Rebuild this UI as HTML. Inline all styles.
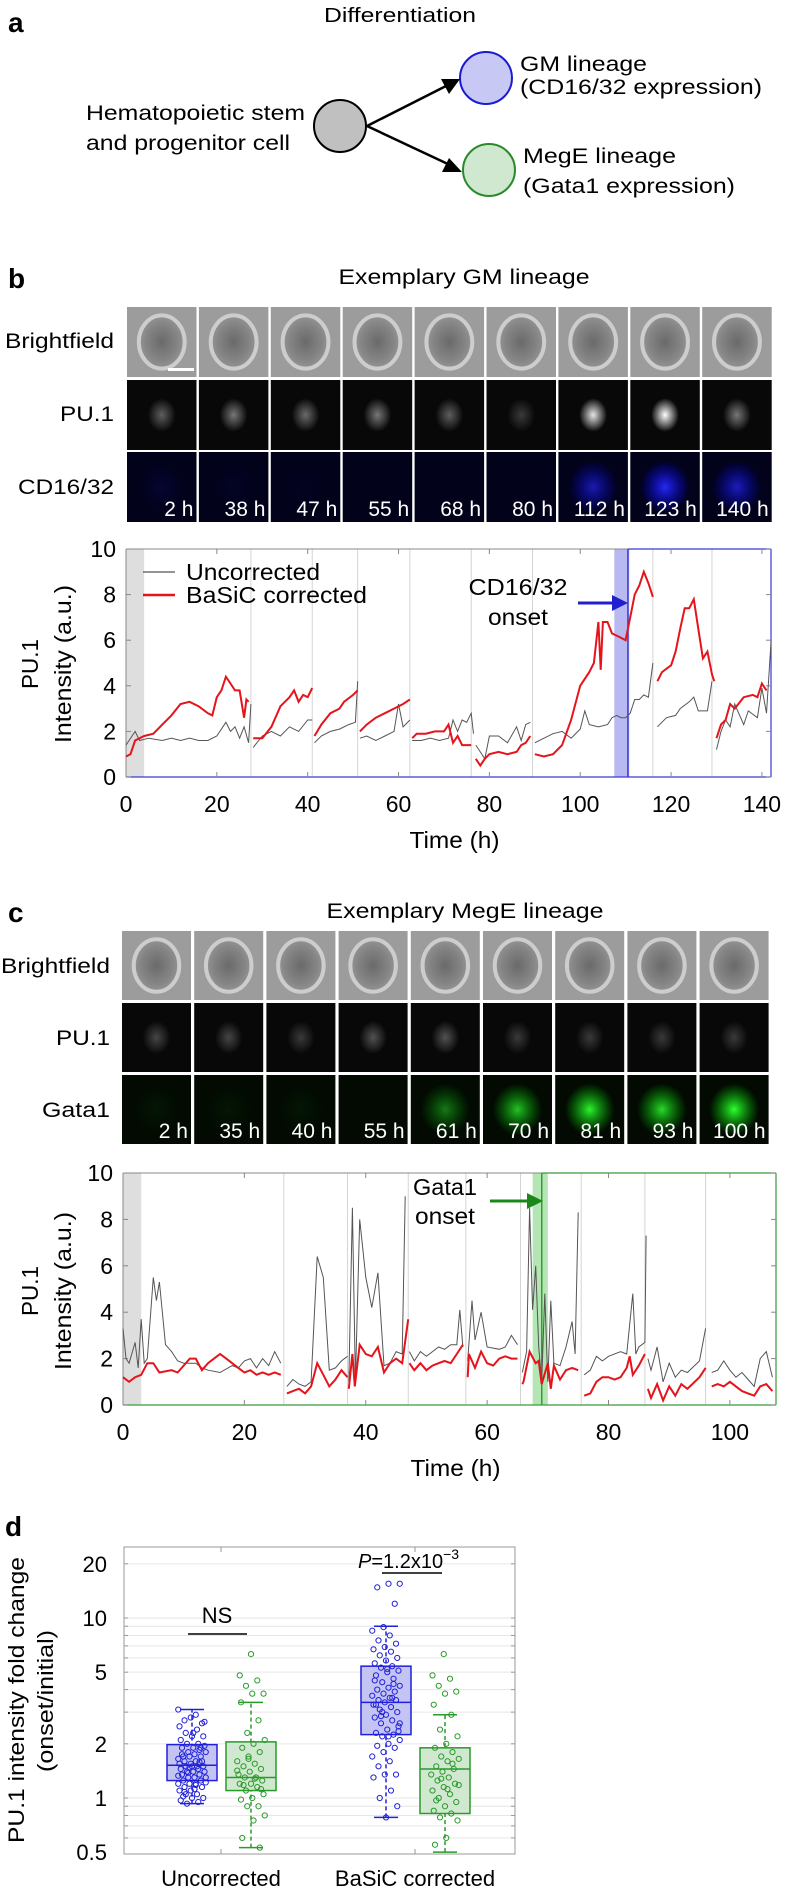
<!DOCTYPE html>
<html><head><meta charset="utf-8"><style>
html,body{margin:0;padding:0;background:#fff;}
svg{display:block;font-family:"Liberation Sans",Arial,sans-serif;}
</style></head><body>
<svg id="fig" width="788" height="1893" viewBox="0 0 788 1893" xmlns="http://www.w3.org/2000/svg">
<defs>
<radialGradient id="gGray"><stop offset="0" stop-color="#fff" stop-opacity="1"/><stop offset="1" stop-color="#fff" stop-opacity="0"/></radialGradient>
<radialGradient id="gBlue"><stop offset="0" stop-color="#2a2aff" stop-opacity="1"/><stop offset="1" stop-color="#0000ff" stop-opacity="0"/></radialGradient>
<radialGradient id="gGreen"><stop offset="0" stop-color="#30ff30" stop-opacity="1"/><stop offset="1" stop-color="#00cc00" stop-opacity="0"/></radialGradient>
<radialGradient id="gBF"><stop offset="0" stop-color="#6a6a6a"/><stop offset="0.7" stop-color="#858585"/><stop offset="1" stop-color="#959595"/></radialGradient>
<marker id="ahB" markerWidth="10" markerHeight="10" refX="9" refY="5" orient="auto" markerUnits="userSpaceOnUse"><path d="M0,0 L10,5 L0,10 z" fill="#1f1fd0"/></marker>
</defs>

<!-- Panel a -->
<g>
<text x="8" y="32" font-size="28" font-weight="bold">a</text>
<text x="400" y="22" font-size="20" text-anchor="middle" textLength="152" lengthAdjust="spacingAndGlyphs">Differentiation</text>
<text x="86" y="120" font-size="21" textLength="219" lengthAdjust="spacingAndGlyphs">Hematopoietic stem</text>
<text x="86" y="150" font-size="21" textLength="204" lengthAdjust="spacingAndGlyphs">and progenitor cell</text>
<ellipse cx="340" cy="126" rx="26" ry="26" fill="#c0c0c0" stroke="#000" stroke-width="2"/>
<ellipse cx="486" cy="78" rx="26" ry="26" fill="#c8c8f4" stroke="#1a1ad0" stroke-width="2"/>
<ellipse cx="489" cy="170" rx="26" ry="26" fill="#cfe8cf" stroke="#2a8a2a" stroke-width="2"/>
<line x1="367" y1="126" x2="448" y2="85" stroke="#000" stroke-width="2.5"/>
<polygon points="460,79 441,79 449,94" fill="#000"/>
<line x1="367" y1="126" x2="450" y2="165" stroke="#000" stroke-width="2.5"/>
<polygon points="462,172 449,158 442,172" fill="#000"/>
<text x="520" y="71" font-size="21" textLength="127" lengthAdjust="spacingAndGlyphs">GM lineage</text>
<text x="520" y="94" font-size="21" textLength="242" lengthAdjust="spacingAndGlyphs">(CD16/32 expression)</text>
<text x="523" y="163" font-size="21" textLength="153" lengthAdjust="spacingAndGlyphs">MegE lineage</text>
<text x="523" y="193" font-size="21" textLength="212" lengthAdjust="spacingAndGlyphs">(Gata1 expression)</text>
</g>

<!-- Panel b header -->
<text x="8" y="288" font-size="28" font-weight="bold">b</text>
<text x="464" y="284" font-size="21" text-anchor="middle" textLength="251" lengthAdjust="spacingAndGlyphs">Exemplary GM lineage</text>
<text x="114" y="348" font-size="21" text-anchor="end" textLength="109" lengthAdjust="spacingAndGlyphs">Brightfield</text>
<text x="114" y="421" font-size="21" text-anchor="end" textLength="54" lengthAdjust="spacingAndGlyphs">PU.1</text>
<text x="114" y="494" font-size="21" text-anchor="end" textLength="96" lengthAdjust="spacingAndGlyphs">CD16/32</text>
<g id="imgB"></g>

<!-- Panel c header -->
<text x="8" y="922" font-size="28" font-weight="bold">c</text>
<text x="465" y="918" font-size="21" text-anchor="middle" textLength="277" lengthAdjust="spacingAndGlyphs">Exemplary MegE lineage</text>
<text x="110" y="973" font-size="21" text-anchor="end" textLength="109" lengthAdjust="spacingAndGlyphs">Brightfield</text>
<text x="110" y="1045" font-size="21" text-anchor="end" textLength="54" lengthAdjust="spacingAndGlyphs">PU.1</text>
<text x="110" y="1117" font-size="21" text-anchor="end" textLength="68" lengthAdjust="spacingAndGlyphs">Gata1</text>
<g id="imgC"></g>

<g id="chartB"></g>
<g id="chartC"></g>

<!-- Panel d -->
<text x="5" y="1536" font-size="28" font-weight="bold">d</text>
<g id="chartD"></g>
</svg>

<script>
const NS='http://www.w3.org/2000/svg';
function mk(parent,tag,attrs,txt){const e=document.createElementNS(NS,tag);for(const k in attrs)e.setAttribute(k,attrs[k]);if(txt!==undefined)e.textContent=txt;parent.appendChild(e);return e;}

/* ---------- image strips ---------- */
const bTimes=['2 h','38 h','47 h','55 h','68 h','80 h','112 h','123 h','140 h'];
const bPU1=[0.35,0.45,0.4,0.45,0.35,0.2,0.9,1.0,0.45];
const bCD=[0.1,0.05,0.03,0,0,0,0.65,0.95,0.7];
const cTimes=['2 h','35 h','40 h','55 h','61 h','70 h','81 h','93 h','100 h'];
const cPU1=[0.25,0.25,0.2,0.3,0.3,0.2,0.2,0.2,0.2];
const cGata=[0.05,0.05,0.05,0,0.45,0.75,0.95,0.85,1.0];

function strip(gid,x0,pitch,w,rows,times,pu,fl,flGrad,tag){
  const g=document.getElementById(gid);
  for(let i=0;i<times.length;i++){
    const x=x0+i*pitch;
    const r0=rows[0],r1=rows[1],r2=rows[2],h=rows[3];
    const bf=mk(g,'rect',{x:x,y:r0,width:w,height:h,fill:'#9c9c9c'});
    
    
    mk(g,'ellipse',{cx:x+w/2,cy:r0+h/2,rx:w*0.33,ry:h*0.38,fill:'url(#gBF)',stroke:'#cdcdcd','stroke-width':4});
    const pr=mk(g,'rect',{x:x,y:r1,width:w,height:h,fill:'#080808'});
    
    
    mk(g,'ellipse',{cx:x+w/2,cy:r1+h/2,rx:w*0.2,ry:h*0.24,fill:'url(#gGray)',opacity:pu[i]});
    const fr=mk(g,'rect',{x:x,y:r2,width:w,height:h,fill:flGrad==='gBlue'?'#02021a':'#020a02'});
    
    
    mk(g,'ellipse',{cx:x+w/2,cy:r2+h/2,rx:w*0.36,ry:h*0.38,fill:'url(#'+flGrad+')',opacity:fl[i]});
    const t=mk(g,'text',{x:x+w-3,y:r2+h-6,'font-size':21,fill:'#fff','text-anchor':'end'},times[i]);
    
    
  }
}
strip('imgB',127,71.9,69.5,[307,380,452,70],bTimes,bPU1,bCD,'gBlue','gm');
strip('imgC',122,72.2,69,[931,1003,1075,69],cTimes,cPU1,cGata,'gGreen','mege');
(function(){const g=document.getElementById('imgB');const s=mk(g,'rect',{x:168,y:368,width:26,height:3,fill:'#fff'});

})();

/* ---------- chart b data ---------- */
const bRedT=[0,1,2,4,6,8,10,12,14,16,18,19,20,21,22,23,24,25,26,26.5,27,null,28,30,32,34,36,37,38,39,40,41,null,41.5,43,45,47,48,50,51,null,51.5,53,55,57,59,61,62.5,null,63,64,66,68,70,71,72,73,74,76,null,77,78,79,80,82,84,86,87,88,89,null,90,92,94,96,98,100,102,103,104,104.5,105,106,107,108,109,110,111,112,113,114,115,116,null,117,118,120,121,122,123,124,125,126,127,128,129,129.5,null,130,131,132,133,134,136,138,139,140,141];
const bRedV=[0.9,1,1.6,1.8,1.9,2.3,2.7,3.2,3.3,3.1,2.8,2.7,3.5,3.8,4.4,4.1,3.8,3.8,2.6,3.4,3.3,null,1.7,1.7,2.2,3.1,3.5,3.8,3.3,3.6,3.5,3.9,null,1.8,2.3,2.8,3.0,3.3,3.6,3.8,null,2.0,2.3,2.6,2.8,3.0,3.2,3.4,null,1.7,1.9,1.9,2.0,2.0,2.3,1.5,1.8,1.4,1.4,null,0.8,0.5,0.8,1.0,1.1,1.0,1.1,1.4,1.5,1.8,null,1.0,0.9,1.0,1.4,2.5,4.0,4.6,5.0,6.8,4.7,6.8,6.8,6.3,6.2,6.1,6.0,7.0,8.0,8.4,9.0,8.5,7.9,null,4.2,4.6,4.9,5.5,6.5,7.4,7.4,7.8,6.5,5.2,5.5,4.5,4.2,null,1.7,2.3,2.5,3.2,3.0,3.5,3.6,3.5,4.1,3.8];
const bGrayT=[0,2,3,5,8,10,12,14,16,18,20,22,23,24,25,26,27,27.5,null,28,30,32,34,36,38,40,41,null,41.5,43,45,47,49,50.5,51,null,51.5,53,55,57,59,60,61,62.5,null,63,65,67,69,71,72,73,74,75,76,76.5,null,77,78,79,80,82,84,86,87,88,89,null,90,92,94,96,98,100,101,102,104,106,107,108,109,110,111,112,113,114,115,116,null,117,119,121,122,124,125,126,128,129,null,130,131,132,133,134,136,137,139,140,141,142];
const bGrayV=[1.4,2,1.6,1.7,1.6,1.7,1.6,1.7,1.6,1.6,1.8,2.4,2.0,2.2,1.7,2.2,1.5,3.2,null,1.3,1.8,2.0,1.8,2.2,2.0,2.5,2.5,null,1.5,1.8,2.0,2.1,2.3,2.4,4.2,null,1.7,1.8,1.6,1.8,2.0,3.2,2.2,2.5,null,1.6,1.6,1.7,1.6,1.7,2.5,2.0,2.5,2.4,2.8,1.9,null,1.4,1.1,0.8,1.8,1.8,1.5,2.2,1.6,2.3,2.4,null,1.5,1.7,1.9,2.0,1.7,2.1,2.9,2.3,2.2,2.3,2.6,2.7,2.6,2.6,2.8,3.4,3.4,3.6,3.5,5.0,null,2.2,2.6,2.7,3.0,3.3,3.5,2.9,2.9,4.2,null,1.2,2.0,2.5,2.2,3.2,2.3,2.9,2.6,3.9,2.8,5.9];
const bDividers=[27.5,41,51,62.5,76,89.5,116,129];
const bTicksX=[0,20,40,60,80,100,120,140];
const bTicksY=[0,2,4,6,8,10];
const bOnset=110.5, bBand=[107.5,110.8], bInitial=[0,4];

/* ---------- chart c data ---------- */
const cRedT=[0,1,2,3,4,5,6,8,9,10,11,12,13,14,15,16,17,18,19,20,21,22,23,24,25,26,null,27,28,29,30,31,32,33,34,35,36,37,null,37.2,37.8,38.2,39,40,41,42,43,44,45,46,47,null,47.2,48,49,50,51,52,53,54,55,56,null,56.8,57,58,59,60,61,62,63,64,65,null,65.8,66,67,68,68.5,69,70,70.5,71,72,73,74,75,null,76,77,78,79,80,81,82,83,83.5,84,85,86,null,86.5,87,88,89,90,91,92,93,95,96,null,97,98,99,100,101,102,103,104,105,106,107];
const cRedV=[1.2,1.0,1.2,1.3,1.8,1.8,1.4,1.5,1.4,1.7,2.0,2.0,1.5,1.8,2.0,2.2,2.0,1.8,1.6,1.4,1.5,1.3,1.4,1.3,1.4,1.3,null,0.5,0.6,0.7,0.5,0.8,1.8,1.3,0.8,1.1,1.5,1.2,null,0.7,2.2,0.8,2.6,2.2,2.1,2.5,1.4,1.8,2.0,1.8,3.7,null,1.8,1.5,1.8,1.5,1.7,1.8,1.9,1.8,2.2,2.6,null,1.2,2.2,1.6,2.3,1.8,1.7,2.0,2.1,2.0,2.0,null,0.9,1.0,2.3,1.8,1.9,0.9,1.8,0.7,1.7,1.1,1.5,1.6,1.5,null,0.4,0.5,1.0,1.2,1.2,1.1,1.2,1.6,2.1,1.3,1.7,2.2,null,0.7,0.3,0.9,0.2,0.8,0.4,0.9,0.7,1.2,1.6,null,0.8,0.9,0.8,1.0,0.8,0.6,0.5,0.4,0.8,0.9,0.6];
const cGrayT=[0,0.5,1,2,2.5,3,3.5,4,5,5.5,6,7,8,9,10,12,13,14,16,18,19,20,21,22,23,24,25,26,null,27,28,29,30,31,32,33,34,35,36,37,null,37.2,37.8,38.3,39,40,41,42,43,44,45,46,46.5,null,47.2,48,49,50,51,52,53,54,55,55.5,56,null,56.8,57.5,58,59,60,62,63,64,65,null,65.8,66.5,67,67.5,68,68.5,69,69.5,70,70.5,71,72,73,74,74.5,75,null,76,77,78,79,80,82,83,84,84.5,85,86,86.2,null,86.5,87,88,89,90,91,92,93,95,96,null,97,98,99,100,101,102,103,104,105,106,107];
const cGrayV=[3.3,2.0,1.8,2.7,1.6,3.7,1.8,2.0,5.5,4.5,5.3,2.6,2.3,1.9,1.8,1.8,1.6,1.5,1.4,1.7,1.6,1.9,2.0,1.6,2.0,1.7,2.3,1.8,null,0.8,1.1,0.9,0.8,1.0,6.4,5.5,1.5,1.6,1.9,2.1,null,1.0,8.5,1.0,8.0,5.5,4.2,5.7,1.7,1.8,2.3,2.2,9.0,null,2.3,1.9,2.3,2.1,2.3,2.5,2.4,2.6,2.6,4.1,2.5,null,1.9,4.5,2.8,4.0,2.5,2.4,2.5,3.0,2.6,null,1.4,2.3,8.5,4.1,6.0,2.5,1.0,4.8,1.0,4.5,1.8,1.7,2.5,3.6,2.2,8.3,null,1.3,1.5,2.1,1.9,2.1,2.3,2.2,4.8,2.2,2.5,2.7,7.3,null,2.0,1.5,2.5,1.0,1.8,1.2,1.5,1.4,1.9,3.3,null,1.4,1.5,1.9,1.5,1.2,1.4,1.1,0.8,2.0,2.3,1.2];
const cDividers=[26.5,37,47,56.5,65.5,75.5,86,96];
const cTicksX=[0,20,40,60,80,100];
const cTicksY=[0,2,4,6,8,10];
const cOnset=69, cBand=[67.5,70], cInitial=[0,3];

function timeChart(gid,o){
  const g=document.getElementById(gid);
  const X=t=>o.left+(t-0)*(o.right-o.left)/o.xmax;
  const Y=v=>o.bottom-v*(o.bottom-o.top)/10;
  // initial shading
  const sh=mk(g,'rect',{x:X(o.initial[0]),y:o.top,width:X(o.initial[1])-X(o.initial[0]),height:o.bottom-o.top,fill:'#dedede'});
  
  
  // onset band
  const bd=mk(g,'rect',{x:X(o.band[0]),y:o.top,width:X(o.band[1])-X(o.band[0]),height:o.bottom-o.top,fill:o.bandFill});
  
  
  // dividers
  o.div.forEach(d=>{const l=mk(g,'line',{x1:X(d),x2:X(d),y1:o.top,y2:o.bottom,stroke:'#d4d4d4','stroke-width':1});
    
    });
  // axes frame
  mk(g,'line',{x1:o.left,x2:o.left,y1:o.top,y2:o.bottom,stroke:'#888','stroke-width':1});
  mk(g,'line',{x1:o.left,x2:X(o.onset),y1:o.top,y2:o.top,stroke:'#888','stroke-width':1});
  mk(g,'line',{x1:X(o.onset),x2:o.right,y1:o.top,y2:o.top,stroke:o.col,'stroke-width':1.2});
  mk(g,'line',{x1:o.right,x2:o.right,y1:o.top,y2:o.bottom,stroke:o.col,'stroke-width':1.2});
  mk(g,'line',{x1:o.left,x2:o.right,y1:o.bottom,y2:o.bottom,stroke:o.col,'stroke-width':1.2});
  mk(g,'line',{x1:X(o.onset),x2:X(o.onset),y1:o.top,y2:o.bottom,stroke:o.col,'stroke-width':1.5});
  // ticks
  o.tx.forEach(t=>{
    mk(g,'line',{x1:X(t),x2:X(t),y1:o.bottom,y2:o.bottom-5,stroke:'#888'});
    mk(g,'line',{x1:X(t),x2:X(t),y1:o.top,y2:o.top+5,stroke:'#888'});
    const lb=mk(g,'text',{x:X(t),y:o.bottom+35,'font-size':23,'text-anchor':'middle'},String(t));
    
    
  });
  o.ty.forEach(v=>{
    mk(g,'line',{x1:o.left,x2:o.left+5,y1:Y(v),y2:Y(v),stroke:'#888'});
    mk(g,'line',{x1:o.right,x2:o.right-5,y1:Y(v),y2:Y(v),stroke:'#888'});
    const lb=mk(g,'text',{x:o.left-10,y:Y(v)+8,'font-size':23,'text-anchor':'end'},String(v));
    
    
  });
  function path(T,V){let d='',pen=false;for(let i=0;i<T.length;i++){if(T[i]===null){pen=false;continue;}d+=(pen?'L':'M')+X(T[i]).toFixed(1)+','+Y(V[i]).toFixed(1);pen=true;}return d;}
  const gp=mk(g,'path',{d:path(o.gT,o.gV),fill:'none',stroke:'#555','stroke-width':1});
  
  
  const rp=mk(g,'path',{d:path(o.rT,o.rV),fill:'none',stroke:'#e5141b','stroke-width':2});
  
  
  // axis titles
  const xt=mk(g,'text',{x:(o.left+o.right)/2+6,y:o.bottom+71,'font-size':23,'text-anchor':'middle',textLength:90,lengthAdjust:'spacingAndGlyphs'},'Time (h)');
  
  
  const yt1=mk(g,'text',{x:0,y:0,'font-size':23,'text-anchor':'middle',transform:'translate(38,'+o.ymid+') rotate(-90)',textLength:50,lengthAdjust:'spacingAndGlyphs'},'PU.1');
  
  
  const yt2=mk(g,'text',{x:0,y:0,'font-size':23,'text-anchor':'middle',transform:'translate(71,'+o.ymid+') rotate(-90)',textLength:158,lengthAdjust:'spacingAndGlyphs'},'Intensity (a.u.)');
  
  
  return {X,Y,g};
}

const cb=timeChart('chartB',{left:126,right:771,top:549,bottom:777,xmax:142,initial:bInitial,band:bBand,bandFill:'#b9b9f2',onset:bOnset,col:'#3a3ad8',div:bDividers,tx:bTicksX,ty:bTicksY,gT:bGrayT,gV:bGrayV,rT:bRedT,rV:bRedV,ymid:664});
(function(){const g=cb.g;
 mk(g,'line',{x1:143,x2:175,y1:572,y2:572,stroke:'#555','stroke-width':1.2});
 const l1=mk(g,'text',{x:186,y:580,'font-size':23,textLength:134,lengthAdjust:'spacingAndGlyphs'},'Uncorrected');
 
 
 mk(g,'line',{x1:143,x2:175,y1:595,y2:595,stroke:'#e5141b','stroke-width':2.5});
 const l2=mk(g,'text',{x:186,y:603,'font-size':23,textLength:181,lengthAdjust:'spacingAndGlyphs'},'BaSiC corrected');
 
 
 const a1=mk(g,'text',{x:518,y:595,'font-size':23,'text-anchor':'middle',textLength:99,lengthAdjust:'spacingAndGlyphs'},'CD16/32');
 
 
 mk(g,'text',{x:518,y:625,'font-size':23,'text-anchor':'middle',textLength:60,lengthAdjust:'spacingAndGlyphs'},'onset');
 const ar=mk(g,'line',{x1:578,x2:614,y1:603,y2:603,stroke:'#1f1fd0','stroke-width':3});
 
 
 mk(g,'polygon',{points:'628,603 612,595 612,611',fill:'#1f1fd0'});
})();

const cc=timeChart('chartC',{left:123,right:776,top:1173,bottom:1405,xmax:107.6,initial:cInitial,band:cBand,bandFill:'#b4e6b4',onset:cOnset,col:'#3a9a3a',div:cDividers,tx:cTicksX,ty:cTicksY,gT:cGrayT,gV:cGrayV,rT:cRedT,rV:cRedV,ymid:1291});
(function(){const g=cc.g;
 const a1=mk(g,'text',{x:445,y:1195,'font-size':23,'text-anchor':'middle',textLength:64,lengthAdjust:'spacingAndGlyphs'},'Gata1');
 
 
 mk(g,'text',{x:445,y:1224,'font-size':23,'text-anchor':'middle',textLength:60,lengthAdjust:'spacingAndGlyphs'},'onset');
 const ar=mk(g,'line',{x1:490,x2:528,y1:1201,y2:1201,stroke:'#1a881a','stroke-width':3});
 
 
 mk(g,'polygon',{points:'543,1201 527,1193 527,1209',fill:'#1a881a'});
})();

/* ---------- chart d data ---------- */
const dCategories=['Uncorrected','BaSiC corrected'];
const dYTicks=[0.5,1,2,5,10,20];
const blueUncorr=[3.1,2.9,2.7,2.6,2.8,2.5,2.4,2.3,2.2,2.2,2.1,2.0,2.0,1.95,1.9,1.9,1.85,1.8,1.8,1.75,1.7,1.7,1.7,1.65,1.6,1.6,1.6,1.55,1.55,1.5,1.5,1.5,1.5,1.45,1.45,1.4,1.4,1.4,1.35,1.35,1.3,1.3,1.3,1.25,1.25,1.2,1.2,1.2,1.15,1.15,1.1,1.1,1.05,1.05,1.0,1.0,0.97,0.95,0.93,2.65,2.3,1.75,1.58,1.38,1.22,1.12,1.02,1.9,1.48,1.33,1.18,1.08];
const greenUncorr=[6.3,4.8,4.5,4.2,3.8,3.8,3.4,2.7,2.3,2.1,2.0,1.9,1.8,1.7,1.6,1.55,1.5,1.45,1.4,1.35,1.3,1.3,1.25,1.2,1.2,1.15,1.1,1.05,1.0,0.98,0.9,0.9,0.8,0.75,0.6,0.53,1.65,1.42,1.28,1.18,1.12];
const blueBasic=[15.5,15.5,14.8,12.0,8.9,8.5,8.0,7.5,7.2,6.9,6.7,6.5,6.2,6.0,5.8,5.6,5.4,5.3,5.1,5.0,4.8,4.6,4.4,4.2,4.1,4.0,3.9,3.8,3.7,3.6,3.5,3.5,3.4,3.3,3.2,3.1,3.0,2.9,2.8,2.7,2.6,2.5,2.4,2.3,2.25,2.2,2.1,2.0,1.95,1.9,1.8,1.7,1.6,1.5,1.35,1.35,1.3,1.1,1.0,0.9,0.78,4.5,3.6,2.85,2.35,5.2,3.3,4.3,3.0,2.6,2.2];
const greenBasic=[6.3,4.8,4.6,4.2,3.9,3.8,3.3,2.9,2.4,2.2,2.0,1.9,1.8,1.7,1.65,1.6,1.5,1.45,1.4,1.35,1.3,1.25,1.2,1.15,1.1,1.05,1.0,0.95,0.9,0.85,0.82,0.78,0.75,0.6,0.55,1.55,1.28,1.18,1.12,0.97];
// [whiskerLow, q1, median, q3, whiskerHigh]
const boxBlueUncorr=[0.93,1.25,1.52,1.98,3.1];
const boxGreenUncorr=[0.53,1.1,1.3,2.05,3.4];
const boxBlueBasic=[0.78,2.25,3.4,5.4,9.0];
const boxGreenBasic=[0.5,0.82,1.45,1.9,2.9];

(function(){
 const g=document.getElementById('chartD');
 const L=124,R=515,T=1547,B=1854;
 const Y=v=>1798-180*Math.log10(v);
 const catX=i=>221+i*194;
 const fr=mk(g,'rect',{x:L,y:T,width:R-L,height:B-T,fill:'#fff',stroke:'#999','stroke-width':1});
 
 
 // minor gridlines
 const minors=[0.6,0.7,0.8,0.9,1,2,3,4,5,6,7,8,9,10,20];
 minors.forEach(v=>{const l=mk(g,'line',{x1:L,x2:R,y1:Y(v),y2:Y(v),stroke:'#e6e6e6','stroke-width':1});
   
   
   mk(g,'line',{x1:L,x2:L+4,y1:Y(v),y2:Y(v),stroke:'#999'});
   mk(g,'line',{x1:R,x2:R-4,y1:Y(v),y2:Y(v),stroke:'#999'});});
 dYTicks.forEach(v=>{
   const t=mk(g,'text',{x:107,y:Y(v)+8,'font-size':22,'text-anchor':'end'},String(v));
   
   });
 dCategories.forEach((c,i)=>{
   mk(g,'line',{x1:catX(i),x2:catX(i),y1:B,y2:B-5,stroke:'#999'});
   mk(g,'line',{x1:catX(i),x2:catX(i),y1:T,y2:T+5,stroke:'#999'});
   const t=mk(g,'text',{x:catX(i),y:1886,'font-size':22,'text-anchor':'middle'},c);
   
   });
 const groups=[[blueUncorr,boxBlueUncorr,0,-29,'#2020d8','#c4c4f4'],[greenUncorr,boxGreenUncorr,0,30,'#2a9a2a','#cfe8cf'],[blueBasic,boxBlueBasic,1,-29,'#2020d8','#c4c4f4'],[greenBasic,boxGreenBasic,1,30,'#2a9a2a','#cfe8cf']];
 const names=['uncorrected-gm','uncorrected-mege','basic-gm','basic-mege'];
 groups.forEach((gr,k)=>{
   const [vals,bx,ci,off,col,fill]=gr;
   const cx=catX(ci)+off,hw=25;
   const wl=mk(g,'line',{x1:cx,x2:cx,y1:Y(bx[0]),y2:Y(bx[4]),stroke:col,'stroke-width':1.5,'stroke-dasharray':'4,3'});
   
   
   mk(g,'line',{x1:cx-12,x2:cx+12,y1:Y(bx[0]),y2:Y(bx[0]),stroke:col,'stroke-width':1.5});
   mk(g,'line',{x1:cx-12,x2:cx+12,y1:Y(bx[4]),y2:Y(bx[4]),stroke:col,'stroke-width':1.5});
   const bb=mk(g,'rect',{x:cx-hw,y:Y(bx[3]),width:hw*2,height:Y(bx[1])-Y(bx[3]),fill:fill,stroke:col,'stroke-width':1.5});
   
   
   mk(g,'line',{x1:cx-hw,x2:cx+hw,y1:Y(bx[2]),y2:Y(bx[2]),stroke:col,'stroke-width':1.5});
   vals.forEach((v,i)=>{
     const jit=(((i*37+k*11)%23)-11)*1.25;
     const p=mk(g,'circle',{cx:cx+jit,cy:Y(v),r:2.6,fill:'none',stroke:col,'stroke-width':1});
     
     
   });
 });
 const ns=mk(g,'text',{x:217,y:1623,'font-size':22,'text-anchor':'middle'},'NS');
 
 
 mk(g,'line',{x1:188,x2:247,y1:1634,y2:1634,stroke:'#000','stroke-width':1.5});
 const pt=mk(g,'text',{x:358,y:1568,'font-size':20});
 
 
 mk(pt,'tspan',{'font-style':'italic'},'P');
 mk(pt,'tspan',{},'=1.2x10');
 mk(pt,'tspan',{dy:-9,'font-size':14},'−3');
 mk(g,'line',{x1:382,x2:442,y1:1573,y2:1573,stroke:'#000','stroke-width':1.5});
 const y1=mk(g,'text',{x:0,y:0,'font-size':22,'text-anchor':'middle',transform:'translate(24,1700) rotate(-90)',textLength:286,lengthAdjust:'spacingAndGlyphs'},'PU.1 intensity fold change');
 
 
 const y2=mk(g,'text',{x:0,y:0,'font-size':22,'text-anchor':'middle',transform:'translate(53,1701) rotate(-90)',textLength:142,lengthAdjust:'spacingAndGlyphs'},'(onset/initial)');
 
 
})();
</script>
</body></html>
